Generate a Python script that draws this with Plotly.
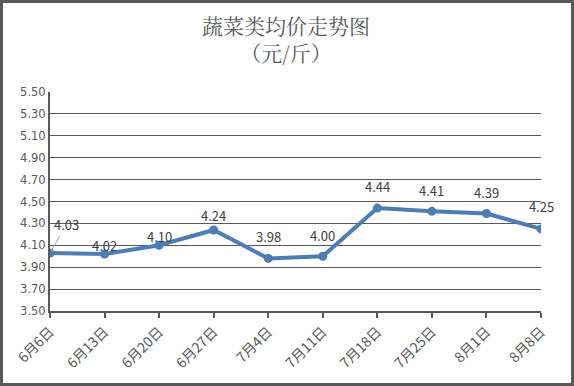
import plotly.graph_objects as go

categories = ["6月6日", "6月13日", "6月20日", "6月27日", "7月4日", "7月11日", "7月18日", "7月25日", "8月1日", "8月8日"]
prices = [4.03, 4.02, 4.10, 4.24, 3.98, 4.00, 4.44, 4.41, 4.39, 4.25]
y_ticks = [3.5, 3.7, 3.9, 4.1, 4.3, 4.5, 4.7, 4.9, 5.1, 5.3, 5.5]

# label vertical offsets (px), styling only
label_shift = [0, 9, 9, 14, 22, 21, 22, 21, 21, 22]

W, H = 574, 386
ml, mr, mt, mb = 50, 33, 92, 75
pw, ph = W - ml - mr, H - mt - mb

LINE = "#4A7EBB"
TXT = "#595959"
FONT = "Noto Sans CJK SC"

fig = go.Figure()
fig.add_trace(go.Scatter(
    x=list(range(len(categories))), y=prices, mode="lines+markers",
    line=dict(color=LINE, width=4), marker=dict(color=LINE, size=9),
    hoverinfo="skip", showlegend=False,
))

annotations = []
for i, (v, s) in enumerate(zip(prices, label_shift)):
    if i == 0:
        annotations.append(dict(x=i, y=v, xref="x", yref="y", text=f"{v:.2f}",
                                showarrow=True, arrowhead=0, arrowcolor="#A6A6A6", arrowwidth=1,
                                ax=16, ay=-28, standoff=2,
                                font=dict(family=FONT, size=13, color="#404040")))
    else:
        annotations.append(dict(x=i, y=v, xref="x", yref="y", text=f"{v:.2f}",
                                showarrow=False, yshift=s,
                                font=dict(family=FONT, size=13, color="#404040")))

annotations.append(dict(x=(286 - ml) / pw, y=(H - mb - 38.5) / ph, xref="paper", yref="paper",
                        text="蔬菜类均价走势图<br>（元/斤）", showarrow=False,
                        xanchor="center", yanchor="middle", align="center",
                        font=dict(family="Noto Serif CJK SC, Noto Sans CJK SC", size=21, color=TXT)))

shapes = [dict(type="rect", xref="paper", yref="paper",
               x0=(1.5 - ml) / pw, x1=(572.5 - ml) / pw,
               y0=(H - mb - 384.5) / ph, y1=(H - mb - 1.5) / ph,
               line=dict(color=TXT, width=3), layer="above")]

fig.update_layout(
    width=W, height=H, margin=dict(l=ml, r=mr, t=mt, b=mb),
    paper_bgcolor="white", plot_bgcolor="white",
    xaxis=dict(tickmode="array", tickvals=list(range(len(categories))), ticktext=categories,
               range=[0, len(categories) - 1], tickangle=-45, showgrid=False,
               showline=True, linecolor=TXT, linewidth=2, ticks="outside", ticklen=5,
               tickcolor=TXT, tickwidth=2, zeroline=False,
               tickfont=dict(family=FONT, size=14, color=TXT)),
    yaxis=dict(range=[3.5, 5.5], tickmode="array", tickvals=y_ticks,
               ticktext=[f"{t:.2f}" for t in y_ticks], showgrid=True, gridcolor="#595959", gridwidth=1,
               showline=True, linecolor=TXT, linewidth=2, zeroline=False, ticks="",
               tickfont=dict(family="DejaVu Sans", size=11.5, color=TXT)),
    annotations=annotations, shapes=shapes,
)

fig.write_html("out.html", config={"displayModeBar": False},
               post_script="document.body.style.margin='0';document.body.style.padding='0';")
